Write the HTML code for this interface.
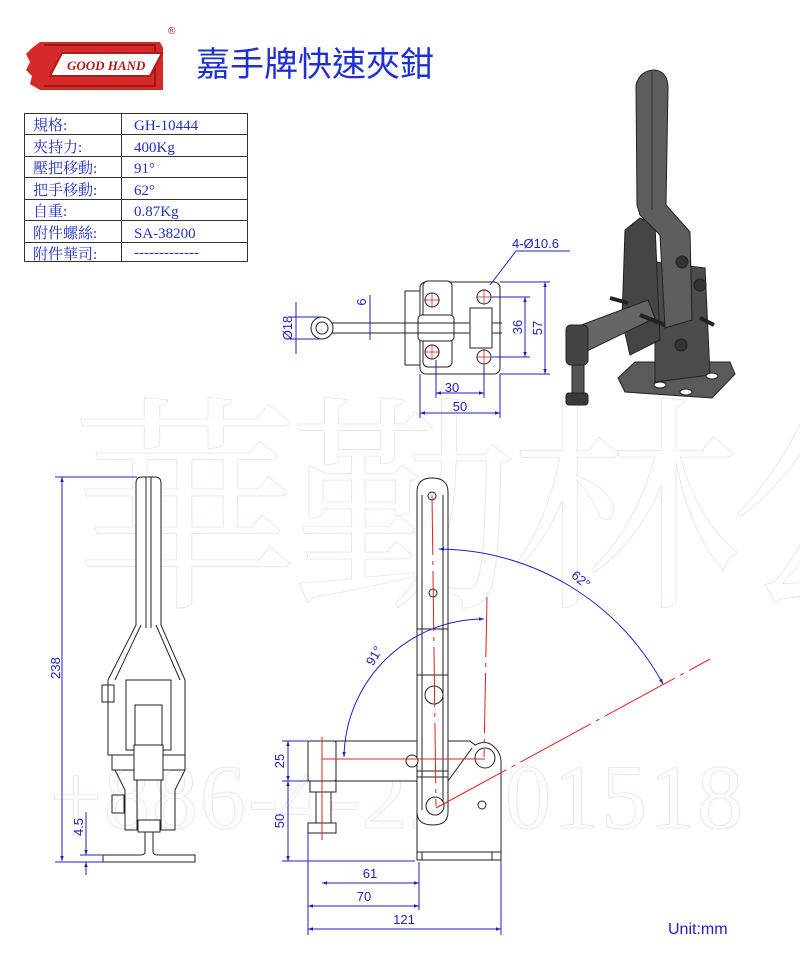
<!DOCTYPE html>
<html><head><meta charset="utf-8"><style>
body{margin:0;background:#fff;}
svg{display:block}
.t{font-family:"Liberation Sans","DejaVu Sans",sans-serif;}
</style></head><body>
<svg width="800" height="970" viewBox="0 0 800 970" xmlns="http://www.w3.org/2000/svg">
<defs>
<marker id="a" viewBox="0 0 10 10" refX="10" refY="5" markerWidth="7" markerHeight="5" orient="auto-start-reverse"><path d="M0,1.5 L10,5 L0,8.5z" fill="#2020c0"/></marker>
</defs>
<!-- watermark -->
<g fill="none" stroke="#f5dcdc" stroke-width="0.8" font-family="'Liberation Serif','Noto Serif CJK SC',serif">
<text x="70" y="590" font-size="230" letter-spacing="-10">華勤林公</text>
<text x="50" y="828" font-size="92" letter-spacing="2">+886-4-22801518</text>
</g>
<!-- logo -->
<g>
<path d="M40,42 H160 L163,48 V90 H40 L30,84 L32,76 L26,70 L30,62 L26,54 L32,48z" fill="#d42a2a"/>
<path d="M44,45 H155 V86 H44" fill="none" stroke="#a01515" stroke-width="2"/>
<path d="M62,53 L162,53 L150,76 L50,76z" fill="#fff" stroke="#b01b1b" stroke-width="2"/>
<text x="67" y="70" font-family="'Liberation Serif',serif" font-style="italic" font-weight="bold" font-size="13" fill="#b01b1b">GOOD HAND</text>
<text x="168" y="34" font-family="'Liberation Sans',sans-serif" font-size="10" fill="#c02020">®</text>
</g>
<text x="196" y="76" font-family="'Liberation Sans','Noto Sans CJK TC',sans-serif" font-size="34" fill="#2030d0">嘉手牌快速夾鉗</text>
<!-- table -->
<g stroke="#333" stroke-width="1" fill="none">
<rect x="24.5" y="113.5" width="223" height="148"/>
<line x1="121.5" y1="113" x2="121.5" y2="261"/>
<line x1="24" y1="134.5" x2="247" y2="134.5"/>
<line x1="24" y1="156.5" x2="247" y2="156.5"/>
<line x1="24" y1="177.5" x2="247" y2="177.5"/>
<line x1="24" y1="199.5" x2="247" y2="199.5"/>
<line x1="24" y1="220.5" x2="247" y2="220.5"/>
<line x1="24" y1="242.5" x2="247" y2="242.5"/>
</g>
<g font-family="'Liberation Serif','Noto Serif CJK TC',serif" font-size="15" fill="#2030c0">
<text x="33" y="130">規格:</text><text x="134" y="130">GH-10444</text>
<text x="33" y="152">夾持力:</text><text x="134" y="152">400Kg</text>
<text x="33" y="173">壓把移動:</text><text x="134" y="173">91°</text>
<text x="33" y="195">把手移動:</text><text x="134" y="195">62°</text>
<text x="33" y="216">自重:</text><text x="134" y="216">0.87Kg</text>
<text x="33" y="238">附件螺絲:</text><text x="134" y="238">SA-38200</text>
<text x="33" y="259">附件華司:</text><text x="134" y="257">-------------</text>
</g>

<!-- 3D render -->
<g stroke="#222" stroke-width="1">
<path d="M618,378 L635,362 L730,362 L735,374 L712,398 L625,392z" fill="#5a5a5a"/>
<path d="M655,262 L705,268 L710,375 L655,382z" fill="#4c4c4c"/>
<path d="M625,230 L640,218 L655,225 L660,340 L630,355 L622,320z" fill="#454545"/>
<path d="M636,85 Q640,70 655,70 Q668,72 668,88 L666,205 L690,232 L692,320 L665,328 L660,235 L640,215 L637,205z" fill="#5e5e5e"/>
<line x1="652" y1="72" x2="652" y2="210" stroke="#333"/>
<path d="M568,330 L648,300 L655,318 L585,352z" fill="#666"/>
<rect x="566" y="325" width="22" height="40" rx="5" fill="#444"/>
<rect x="572" y="365" width="12" height="30" fill="#555"/>
<rect x="566" y="393" width="22" height="12" rx="3" fill="#3a3a3a"/>
<circle cx="682" cy="262" r="6" fill="#333"/>
<circle cx="700" cy="285" r="6" fill="#333"/>
<circle cx="681" cy="345" r="6" fill="#333"/>
<ellipse cx="660" cy="385" rx="6" ry="3" fill="#fff"/>
<ellipse cx="712" cy="376" rx="6" ry="3" fill="#fff"/>
<ellipse cx="686" cy="392" rx="6" ry="3" fill="#fff"/>
<line x1="610" y1="298" x2="628" y2="303" stroke-width="4"/>
<line x1="640" y1="315" x2="665" y2="325" stroke-width="4"/>
<line x1="700" y1="318" x2="714" y2="325" stroke-width="4"/>
</g>

<!-- top view -->
<g stroke="#222" stroke-width="1" fill="#fff">
<rect x="405" y="291" width="15" height="74"/>
<rect x="420" y="282" width="80" height="92" rx="6"/>
<rect x="423" y="281" width="29" height="86" rx="5"/>
<rect x="418" y="315" width="36" height="26" rx="4"/>
<line x1="332" y1="323" x2="502" y2="323"/><line x1="332" y1="333" x2="502" y2="333"/>
<rect x="470" y="308" width="22" height="40"/>
<circle cx="484" cy="297" r="7"/><circle cx="484" cy="357" r="7"/>
<circle cx="432" cy="300" r="7"/><circle cx="432" cy="352" r="7"/>
<circle cx="322" cy="328" r="11"/><circle cx="322" cy="328" r="6"/>
</g>
<g stroke="#e02020" stroke-width="0.8">
<line x1="476" y1="297" x2="492" y2="297"/><line x1="484" y1="289" x2="484" y2="305"/>
<line x1="476" y1="357" x2="492" y2="357"/><line x1="484" y1="349" x2="484" y2="365"/>
<line x1="424" y1="300" x2="440" y2="300"/><line x1="432" y1="292" x2="432" y2="308"/>
<line x1="424" y1="352" x2="440" y2="352"/><line x1="432" y1="344" x2="432" y2="360"/>
</g>
<g stroke="#2020c0" stroke-width="1" fill="none">
<line x1="500" y1="282" x2="550" y2="282"/><line x1="500" y1="374" x2="550" y2="374"/>
<line x1="545" y1="282" x2="545" y2="374" marker-start="url(#a)" marker-end="url(#a)"/>
<line x1="492" y1="297" x2="530" y2="297"/><line x1="492" y1="357" x2="530" y2="357"/>
<line x1="525" y1="297" x2="525" y2="357" marker-start="url(#a)" marker-end="url(#a)"/>
<line x1="436" y1="360" x2="436" y2="398"/><line x1="484" y1="365" x2="484" y2="398"/>
<line x1="436" y1="393" x2="484" y2="393" marker-start="url(#a)" marker-end="url(#a)"/>
<line x1="420" y1="374" x2="420" y2="418"/><line x1="500" y1="374" x2="500" y2="418"/>
<line x1="420" y1="413" x2="500" y2="413" marker-start="url(#a)" marker-end="url(#a)"/>
<line x1="290" y1="317" x2="322" y2="317"/><line x1="290" y1="339" x2="322" y2="339"/>
<line x1="296" y1="302" x2="296" y2="354"/>
<line x1="370" y1="295" x2="370" y2="340"/>
<polyline points="490,285 516,251 570,251"/>
</g>
<g class="t" fill="#2020c0" font-size="13">
<text x="512" y="248">4-Ø10.6</text>
<text x="452" y="392" text-anchor="middle">30</text>
<text x="460" y="411" text-anchor="middle">50</text>
<text transform="translate(542,328) rotate(-90)" text-anchor="middle">57</text>
<text transform="translate(522,327) rotate(-90)" text-anchor="middle">36</text>
<text transform="translate(292,328) rotate(-90)" text-anchor="middle">Ø18</text>
<text transform="translate(366,302) rotate(-90)" text-anchor="middle">6</text>
</g>

<!-- left view -->
<g stroke="#222" stroke-width="1" fill="none">
<path d="M136,483 Q136,477 142,477 H155 Q161,477 161,483 V625 L185,680 V755 H108 V680 L136,625z" fill="#fff"/>
<line x1="146" y1="477" x2="146" y2="628"/><line x1="151" y1="477" x2="151" y2="628"/>
<line x1="141" y1="625" x2="115" y2="680"/><line x1="156" y1="625" x2="180" y2="680"/>
<rect x="126" y="680" width="45" height="70"/>
<rect x="135" y="705" width="27" height="40"/>
<rect x="102" y="685" width="12" height="17"/>
<rect x="112" y="755" width="73" height="15" fill="#fff"/>
<rect x="134" y="745" width="29" height="35" fill="#fff"/>
<path d="M115,770 L125,790 V830 H175 V790 L185,770"/>
<rect x="112" y="795" width="12" height="18"/>
<rect x="137" y="780" width="24" height="50"/>
<rect x="138" y="820" width="22" height="12" fill="#fff"/>
<path d="M145,832 V852 Q145,855 140,855 H103 V862 H195 V855 H158 Q153,855 153,852 V832"/>
</g>
<g stroke="#2020c0" stroke-width="1">
<line x1="62" y1="477" x2="62" y2="861" marker-start="url(#a)" marker-end="url(#a)"/>
<line x1="55" y1="477" x2="137" y2="477"/><line x1="55" y1="862" x2="104" y2="862"/>
<line x1="80" y1="855" x2="104" y2="855"/>
<line x1="86" y1="812" x2="86" y2="855" marker-end="url(#a)"/>
<line x1="86" y1="862" x2="86" y2="875" marker-start="url(#a)"/>
</g>
<g class="t" fill="#2020c0" font-size="13">
<text transform="translate(60,668) rotate(-90)" text-anchor="middle">238</text>
<text transform="translate(83,827) rotate(-90)" text-anchor="middle">4.5</text>
</g>

<!-- main view -->
<g stroke="#222" stroke-width="1" fill="#fff">
<path d="M417,741 H470 L475,745 Q485,740 492,745 Q501,752 501,762 V860 H417z"/>
<line x1="417" y1="852" x2="501" y2="852"/><line x1="422" y1="852" x2="422" y2="860"/><line x1="492" y1="852" x2="492" y2="860"/>
<rect x="336" y="741" width="81" height="40"/>
<rect x="308" y="741" width="28" height="40" rx="2"/>
<rect x="310" y="781" width="26" height="11"/>
<rect x="316" y="792" width="15" height="31"/>
<rect x="308" y="823" width="28" height="10"/>
<path d="M417,492 Q417,478 432,478 Q448,478 448,492 V812 Q448,825 433,825 Q417,825 417,812z"/>
<line x1="422" y1="495" x2="422" y2="810"/><line x1="443" y1="495" x2="443" y2="810"/>
<line x1="417" y1="629" x2="448" y2="629"/><line x1="417" y1="675" x2="448" y2="675"/>
<line x1="417" y1="771" x2="448" y2="771"/><line x1="417" y1="777" x2="448" y2="777"/>
<line x1="448" y1="781" x2="472" y2="748"/>
<circle cx="432" cy="496" r="4"/><circle cx="433" cy="593" r="4"/>
<circle cx="434" cy="695" r="9"/>
<circle cx="485" cy="758" r="10"/>
<circle cx="412" cy="761" r="6"/>
<circle cx="435" cy="806" r="9"/>
<circle cx="482" cy="805" r="4"/>
</g>
<g stroke="#e02020" stroke-width="1" fill="none">
<line x1="432" y1="495" x2="436" y2="806" stroke-dasharray="60,6,4,6"/>
<line x1="487" y1="597" x2="484" y2="757" stroke-dasharray="60,6,4,6"/>
<line x1="436" y1="808" x2="710" y2="659" stroke-dasharray="80,6,4,6"/>
<line x1="322" y1="759" x2="485" y2="759"/>
<line x1="322" y1="737" x2="322" y2="840"/>
</g>
<g stroke="#2020c0" stroke-width="1" fill="none">
<path d="M344,757 A140,140 0 0 1 484,619" marker-start="url(#a)" marker-end="url(#a)"/>
<path d="M439,549 A257,257 0 0 1 663,684" marker-start="url(#a)" marker-end="url(#a)"/>
<line x1="282" y1="741" x2="308" y2="741"/><line x1="282" y1="781" x2="310" y2="781"/><line x1="282" y1="861" x2="415" y2="861"/>
<line x1="288" y1="741" x2="288" y2="781" marker-start="url(#a)" marker-end="url(#a)"/>
<line x1="288" y1="781" x2="288" y2="861" marker-start="url(#a)" marker-end="url(#a)"/>
<line x1="419" y1="862" x2="419" y2="910"/><line x1="501" y1="860" x2="501" y2="935"/>
<line x1="308" y1="833" x2="308" y2="935"/>
<line x1="322" y1="883" x2="419" y2="883" marker-start="url(#a)" marker-end="url(#a)"/>
<line x1="308" y1="906" x2="419" y2="906" marker-start="url(#a)" marker-end="url(#a)"/>
<line x1="308" y1="929" x2="501" y2="929" marker-start="url(#a)" marker-end="url(#a)"/>
</g>
<g class="t" fill="#2020c0" font-size="13">
<text transform="translate(284,761) rotate(-90)" text-anchor="middle">25</text>
<text transform="translate(284,821) rotate(-90)" text-anchor="middle">50</text>
<text x="370" y="878" text-anchor="middle">61</text>
<text x="364" y="901" text-anchor="middle">70</text>
<text x="404" y="924" text-anchor="middle">121</text>
<text transform="translate(378,658) rotate(-60)" text-anchor="middle">91°</text>
<text transform="translate(578,583) rotate(40)" text-anchor="middle">62°</text>
<text x="668" y="934" font-size="16">Unit:mm</text>
</g>
</svg>
</body></html>
